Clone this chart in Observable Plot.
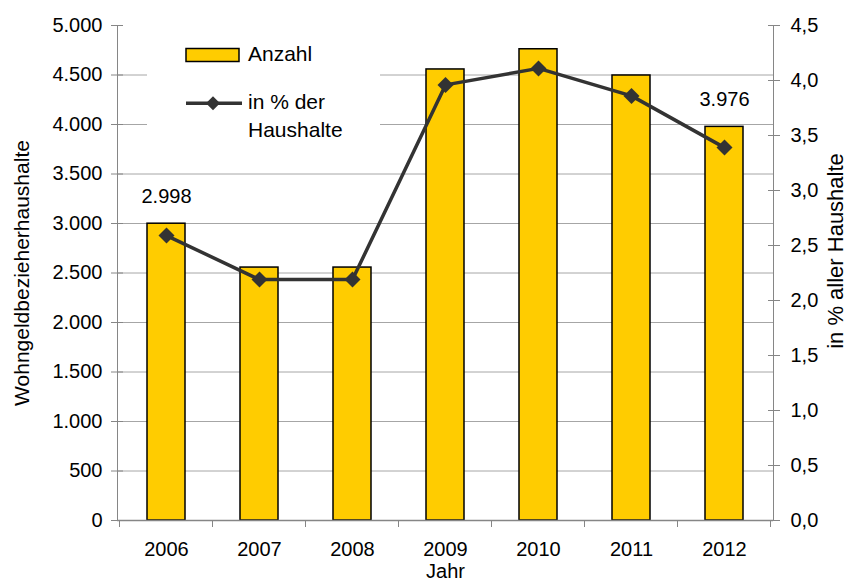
<!DOCTYPE html>
<html>
<head>
<meta charset="utf-8">
<script src="https://cdn.jsdelivr.net/npm/d3@7"></script>
<script src="https://cdn.jsdelivr.net/npm/@observablehq/plot@0.6"></script>
<style>
  body { margin: 0; background: #fff; font-family: "Liberation Sans", Arial, sans-serif; }
  #wrap { position: relative; width: 848px; height: 582px; overflow: hidden; }
  #legend { position: absolute; left: 147px; top: 38px; }
</style>
</head>
<body>
<div id="wrap">
  <svg id="legend" width="233" height="110" font-family="Liberation Sans, Arial, sans-serif" font-size="21">
    <rect width="233" height="110" fill="#fff"/>
    <rect x="39" y="10.5" width="53" height="13" fill="#FFCC00" stroke="#000" stroke-width="1.5"/>
    <text x="101" y="23">Anzahl</text>
    <line x1="39" x2="95" y1="65.3" y2="65.3" stroke="#333" stroke-width="3.5"/>
    <path d="M66,58.3 L73,65.3 L66,72.3 L59,65.3Z" fill="#333"/>
    <text x="101" y="71.3">in % der</text>
    <text x="101" y="99.3">Haushalte</text>
  </svg>
</div>
<script>
const years = ["2006", "2007", "2008", "2009", "2010", "2011", "2012"];
const anzahl = [2998, 2555, 2555, 4556, 4760, 4495, 3976];
const prozent = [2.59, 2.19, 2.19, 3.96, 4.11, 3.86, 3.39];
const labelYears = ["2006", "2012"];
const leftTicks = [0, 500, 1000, 1500, 2000, 2500, 3000, 3500, 4000, 4500, 5000];
const gridTicks = [500, 1000, 1500, 2000, 2500, 3000, 3500, 4000, 4500];
const rightTicks = [0, 0.5, 1.0, 1.5, 2.0, 2.5, 3.0, 3.5, 4.0, 4.5];
const leftMax = 5000, rightMax = 4.5;
const k = leftMax / rightMax;

const de = d3.formatLocale({decimal: ",", thousands: ".", grouping: [3], currency: ["", " €"]});
const fmtInt = de.format(",d");
const fmtPct = v => (v / k).toFixed(1).replace(".", ",");

const data = years.map((y, i) => ({year: y, anzahl: anzahl[i], pct: prozent[i]}));
const labelData = data.filter(d => labelYears.includes(d.year));

const font = "Liberation Sans, Arial, sans-serif";
const axisGray = "#868686";
const gridGray = "#a6a6a6";

const chart = Plot.plot({
  width: 848,
  height: 582,
  marginLeft: 117,
  marginRight: 75,
  marginTop: 25,
  marginBottom: 62,
  style: {fontFamily: font, fontSize: "20px", color: "#000", background: "#fff"},
  x: {type: "band", domain: years, paddingInner: 0.59, paddingOuter: 0.295, label: null},
  y: {domain: [0, leftMax], label: null},
  marks: [
    Plot.gridY(gridTicks, {stroke: gridGray, strokeOpacity: 1}),
    // left axis: crossing tick marks, then labels
    Plot.axisY(leftTicks, {anchor: "left", tickSize: 12, dx: 6, tickFormat: () => "", label: null, stroke: axisGray}),
    Plot.axisY(leftTicks, {anchor: "left", tickSize: 0, tickPadding: 15, tickFormat: fmtInt, label: null, fontSize: 20}),
    // right axis
    Plot.axisY(rightTicks.map(t => t * k), {anchor: "right", tickSize: 12, dx: -6, tickFormat: () => "", label: null, stroke: axisGray}),
    Plot.axisY(rightTicks.map(t => t * k), {anchor: "right", tickSize: 0, tickPadding: 17, tickFormat: fmtPct, label: null, fontSize: 20}),
    // x axis labels
    Plot.axisX({tickSize: 0, tickPadding: 21, label: null, fontSize: 20}),
    Plot.frame({anchor: "left", stroke: axisGray}),
    Plot.frame({anchor: "right", stroke: axisGray}),
    Plot.barY(data, {x: "year", y: "anzahl", fill: "#FFCC00", stroke: "#000", strokeWidth: 1.5}),
    Plot.ruleY([0], {stroke: axisGray, strokeWidth: 1.5}),
    Plot.line(data, {x: "year", y: d => d.pct * k, stroke: "#333", strokeWidth: 3.5}),
    Plot.dot(data, {x: "year", y: d => d.pct * k, symbol: "diamond2", r: 7.2, fill: "#333", stroke: "none"}),
    Plot.text(labelData, {x: "year", y: "anzahl", text: d => fmtInt(d.anzahl), dy: -27, fontSize: 20, fill: "#000"}),
    Plot.text(["Wohngeldbezieherhaushalte"], {text: d => d, frameAnchor: "left", textAnchor: "middle", rotate: -90, dx: -95, fontSize: 21, fill: "#000"}),
    Plot.text(["in % aller Haushalte"], {text: d => d, frameAnchor: "right", textAnchor: "middle", rotate: -90, dx: 62, dy: -22, fontSize: 22, fill: "#000"}),
    Plot.text(["Jahr"], {text: d => d, frameAnchor: "bottom", dy: 57, fontSize: 20, fill: "#000"})
  ]
});

const wrap = document.getElementById("wrap");
wrap.insertBefore(chart, wrap.firstChild);

// x-axis tick marks at the band boundaries, from the plot's own x scale
const xs = chart.scale("x");
const gap = (xs.step - xs.bandwidth) / 2;
const bounds = years.map(y => xs.apply(y) - gap).concat([xs.apply(years[years.length - 1]) + xs.bandwidth + gap]);
const ys = chart.scale("y");
const y0 = ys.apply(0);
d3.select(chart).append("g")
  .selectAll("line").data(bounds).join("line")
  .attr("x1", d => d).attr("x2", d => d)
  .attr("y1", y0).attr("y2", y0 + 7)
  .attr("stroke", axisGray);
</script>
</body>
</html>
